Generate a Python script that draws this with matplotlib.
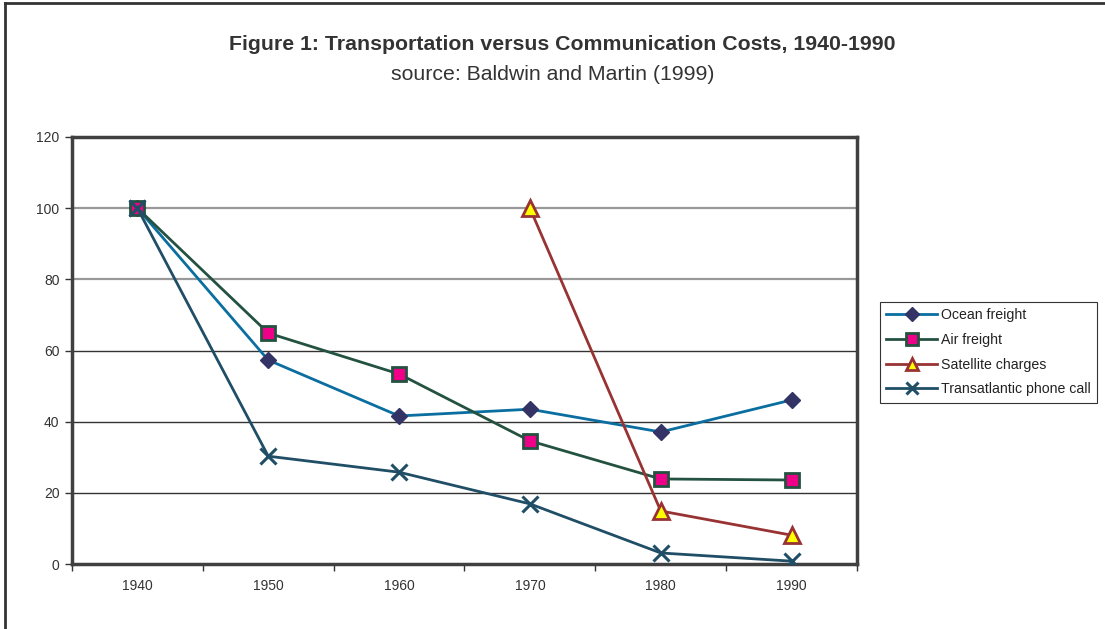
import matplotlib
matplotlib.use("Agg")
import matplotlib.pyplot as plt
from matplotlib.lines import Line2D
import numpy as np

years = ["1940", "1950", "1960", "1970", "1980", "1990"]
ocean_freight = [100, 57.3, 41.6, 43.5, 37.1, 46.1]
air_freight = [100, 64.9, 53.4, 34.6, 23.9, 23.6]
satellite_charges = [np.nan, np.nan, np.nan, 100, 14.9, 8.1]
phone_call = [100, 30.3, 25.8, 16.9, 3.1, 0.8]
y_ticks = [0, 20, 40, 60, 80, 100, 120]

plt.rcParams['font.family'] = ['Liberation Sans', 'DejaVu Sans']

fig = plt.figure(figsize=(11.05, 6.29), dpi=100)
ax = fig.add_axes([72/1105, 1-564/629, (857-72)/1105, (564-137)/629])

x = np.arange(len(years))

# gridlines
for v in y_ticks[1:-1]:
    if v >= 80:
        ax.axhline(v, color='#999999', lw=1.6, zorder=1)
    else:
        ax.axhline(v, color='#333333', lw=1.0, zorder=1)

ax.plot(x, ocean_freight, color='#0a6ea0', lw=2, marker='D', ms=8.5,
        mfc='#333366', mec='#333366', label='Ocean freight', zorder=3)
ax.plot(x, air_freight, color='#245240', lw=2, marker='s', ms=10,
        mfc='#ee0088', mec='#245240', mew=2, label='Air freight', zorder=3)
ax.plot(x, satellite_charges, color='#993333', lw=2, marker='^', ms=11,
        mfc='#ffff00', mec='#993333', mew=2, label='Satellite charges', zorder=3)
ax.plot(x, phone_call, color='#1f4e66', lw=2, marker='x', ms=11,
        mew=2.2, mec='#1f4e66', label='Transatlantic phone call', zorder=4)

ax.set_xlim(-0.5, len(years) - 0.5)
ax.set_ylim(0, 120)
ax.set_yticks(y_ticks)
ax.set_yticklabels([str(v) for v in y_ticks], fontsize=10, color='#333333')
ax.set_xticks(x)
ax.set_xticklabels(years, fontsize=10, color='#333333')
ax.set_xticks(np.arange(-0.5, len(years)), minor=True)
ax.tick_params(axis='x', which='major', length=0, pad=11)
ax.tick_params(axis='x', which='minor', length=5, width=1, color='#333333', direction='out')
ax.tick_params(axis='y', which='major', length=5, width=1, color='#333333', direction='out', pad=4)

for s in ax.spines.values():
    s.set_color('#404040')
    s.set_linewidth(2.5)

fig.text(0.509, 1-45/629, "Figure 1: Transportation versus Communication Costs, 1940-1990",
         ha='center', va='center', fontsize=15.3, fontweight='bold', color='#333333')
fig.text(0.5, 1-74/629, "source: Baldwin and Martin (1999)",
         ha='center', va='center', fontsize=15.3, color='#333333')

leg = fig.legend(loc='upper left', bbox_to_anchor=(880/1105, 1-302/629),
                 bbox_transform=fig.transFigure, fontsize=10.2, frameon=True,
                 fancybox=False, edgecolor='#000000', handlelength=3.6,
                 handletextpad=0.25, labelspacing=0.75, borderpad=0.45,
                 borderaxespad=0)
leg.get_frame().set_linewidth(0.8)
for h, ms in zip(leg.legend_handles, [7, 8, 8, 8]):
    h.set_markersize(ms)
    h.set_linewidth(2)
for t in leg.get_texts():
    t.set_color('#222222')

# figure border (left and top)
fig.add_artist(Line2D([4.5/1105, 4.5/1105], [0, 1-2.5/629], transform=fig.transFigure,
                      color='#333333', lw=2))
fig.add_artist(Line2D([4.5/1105, 1], [1-2.5/629, 1-2.5/629], transform=fig.transFigure,
                      color='#333333', lw=2))

fig.savefig("out.png", dpi=100)
